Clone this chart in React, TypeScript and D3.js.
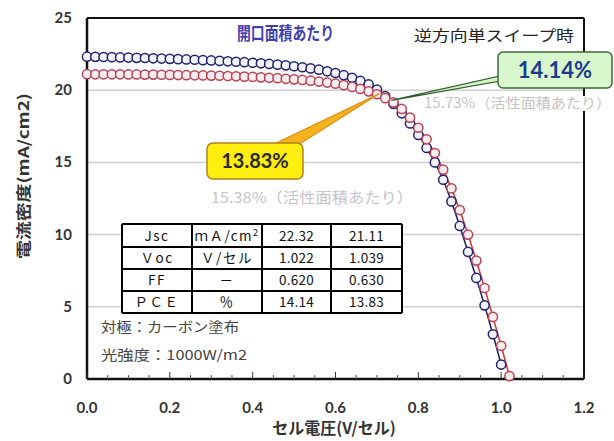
import React from "react";
import * as d3 from "d3";

const VOLTAGES = [0,0.02,0.04,0.06,0.08,0.1,0.12,0.14,0.16,0.18,0.2,0.22,0.24,0.26,0.28,0.3,0.32,0.34,0.36,0.38,0.4,0.42,0.44,0.46,0.48,0.5,0.52,0.54,0.56,0.58,0.6,0.62,0.64,0.66,0.68,0.7,0.72,0.74,0.76,0.78,0.8,0.82,0.84,0.86,0.88,0.9,0.92,0.94,0.96,0.98,1.0,1.02];

const BLUE_J = [22.32,22.31,22.3,22.29,22.27,22.26,22.24,22.23,22.21,22.19,22.17,22.15,22.13,22.11,22.08,22.06,22.03,22.0,21.97,21.94,21.9,21.86,21.82,21.77,21.72,21.66,21.59,21.51,21.42,21.31,21.19,21.04,20.86,20.64,20.4,20.05,19.6,19.05,18.4,17.7,16.9,16.0,15.0,13.8,12.3,10.6,8.8,7.0,5.1,3.1,1.0];

const RED_J = [21.11,21.1,21.1,21.1,21.1,21.09,21.09,21.08,21.08,21.07,21.06,21.05,21.04,21.03,21.02,21.01,21.0,20.98,20.96,20.94,20.92,20.89,20.86,20.83,20.79,20.75,20.71,20.66,20.6,20.53,20.45,20.35,20.23,20.09,19.92,19.72,19.45,19.15,18.7,18.1,17.4,16.6,15.65,14.5,13.2,11.7,10.0,8.2,6.3,4.3,2.3,0.2];

const X_TICKS = [0, 0.2, 0.4, 0.6, 0.8, 1.0, 1.2];
const X_MINOR = [0.05,0.1,0.15,0.25,0.3,0.35,0.45,0.5,0.55,0.65,0.7,0.75,0.85,0.9,0.95,1.05,1.1,1.15];
const Y_TICKS = [0, 5, 10, 15, 20, 25];

const TABLE_ROWS = [
  ["Jsc", "ｍＡ/cm", "22.32", "21.11"],
  ["Ｖoc", "Ｖ/セル", "1.022", "1.039"],
  ["FF", "－", "0.620", "0.630"],
  ["ＰＣＥ", "％", "14.14", "13.83"],
];

const TITLE = "開口面積あたり";
const SWEEP = "逆方向単スイープ時";
const PCE_BLUE = "14.14%";
const PCE_RED = "13.83%";
const ACTIVE_BLUE = "15.73%（活性面積あたり）";
const ACTIVE_RED = "15.38%（活性面積あたり）";
const NOTE1 = "対極：カーボン塗布";
const NOTE2 = "光強度：1000W/m2";
const X_LABEL = "セル電圧(V/セル)";
const Y_LABEL = "電流密度(mA/cm2)";

const W = 614, H = 441;
const PL = 87, PR = 584, PT = 18, PB = 379;

const JP = "'Noto Sans CJK JP', 'Noto Sans', sans-serif";
const NUM = "Lato, 'Open Sans', sans-serif";

export default function App() {
  const x = d3.scaleLinear().domain([0, 1.2]).range([PL, PR]);
  const y = d3.scaleLinear().domain([0, 25]).range([PB, PT]);

  const blue = BLUE_J.map((j, i) => [VOLTAGES[i], j] as [number, number]);
  const red = RED_J.map((j, i) => [VOLTAGES[i], j] as [number, number]);
  const line = d3.line<[number, number]>().x(d => x(d[0])).y(d => y(d[1]));

  const colX = [122, 192, 262, 331, 402];
  const rowY = [224, 247, 269, 291, 313];

  return (
    <svg width={W} height={H} style={{ position: "absolute", left: 0, top: 0, background: "#fff" }}>
      <rect x={0} y={0} width={W} height={H} fill="#fff" />
      {Y_TICKS.filter(t => t > 0 && t < 25).map(t => (
        <line key={"g" + t} x1={PL} x2={PR} y1={y(t)} y2={y(t)} stroke="#cfcfcf" strokeWidth={1.5} />
      ))}
      <line x1={PL} x2={PR} y1={PT} y2={PT} stroke="#111" strokeWidth={2} />
      <line x1={PR} x2={PR} y1={PT} y2={PB} stroke="#111" strokeWidth={2} />
      <line x1={PL} x2={PL} y1={PT} y2={PB} stroke="#111" strokeWidth={2.5} />
      <line x1={PL} x2={PR} y1={PB} y2={PB} stroke="#111" strokeWidth={2.5} />
      {X_TICKS.map(t => (
        <line key={"xt" + t} x1={x(t)} x2={x(t)} y1={PB} y2={PB - 7} stroke="#333" strokeWidth={1} />
      ))}
      {X_MINOR.map(t => (
        <line key={"xm" + t} x1={x(t)} x2={x(t)} y1={PB} y2={PB - 4} stroke="#555" strokeWidth={1} />
      ))}
      {X_TICKS.map(t => (
        <text key={"xl" + t} x={x(t)} y={413} textAnchor="middle" fontFamily={NUM} fontWeight="bold" fontSize={15} fill="#333">
          {t.toFixed(1)}
        </text>
      ))}
      {Y_TICKS.map(t => (
        <text key={"yl" + t} x={72} y={y(t) + 5} textAnchor="end" fontFamily={NUM} fontWeight="bold" fontSize={15} fill="#333">
          {t}
        </text>
      ))}
      <text x={334} y={434} textAnchor="middle" fontFamily={JP} fontWeight="bold" fontSize={16} fill="#333">{X_LABEL}</text>
      <text transform={`translate(29,176) rotate(-90)`} textAnchor="middle" fontFamily={JP} fontWeight="bold" fontSize={15}
        fill="#333" textLength={166} lengthAdjust="spacingAndGlyphs">{Y_LABEL}</text>

      <path d={line(blue) || ""} fill="none" stroke="#1c1c66" strokeWidth={1.5} />
      <path d={line(red) || ""} fill="none" stroke="#d03535" strokeWidth={1.5} />
      {blue.map((d, i) => (
        <circle key={"b" + i} cx={x(d[0])} cy={y(d[1])} r={4.6} fill="#f4f4ff" stroke="#22226e" strokeWidth={1.5} />
      ))}
      {red.map((d, i) => (
        <circle key={"r" + i} cx={x(d[0])} cy={y(d[1])} r={4.6} fill="#ffeef0" stroke="#b84356" strokeWidth={1.5} />
      ))}

      <text x={237} y={40} fontFamily={JP} fontWeight="bold" fontSize={18} fill="#4040b0" textLength={97} lengthAdjust="spacingAndGlyphs">{TITLE}</text>
      <text x={414} y={41} fontFamily={JP} fontSize={15} fill="#222" textLength={160} lengthAdjust="spacingAndGlyphs">{SWEEP}</text>

      <rect x={423} y={96} width={191} height={15} fill="#fff" />
      <text x={424} y={108} fontFamily={JP} fontSize={14} fill="#c4c4c4" textLength={187} lengthAdjust="spacingAndGlyphs">{ACTIVE_BLUE}</text>
      <text x={211} y={203} fontFamily={JP} fontSize={15} fill="#c4c4cc" textLength={202} lengthAdjust="spacingAndGlyphs">{ACTIVE_RED}</text>

      <polygon points={`${x(0.735)},${y(19.3)} 500,76 500,81`} fill="#d6f5c6" stroke="#2e5a2e" strokeWidth={1.2} />
      <rect x={498} y={52} width={114} height={36} rx={5} fill="#d9f7cc" stroke="#3a6a3a" strokeWidth={1.5} />
      <text x={555} y={78} textAnchor="middle" fontFamily={NUM} fontWeight="bold" fontSize={22} fill="#1b3a8c">{PCE_BLUE}</text>

      <polygon points={`${x(0.705)},${y(19.75)} 272,145 298,145`} fill="#f5b21f" stroke="#e08a10" strokeWidth={1.2} />
      <rect x={207} y={143} width={96} height={36} rx={6} fill="#ffee10" stroke="#b08020" strokeWidth={1.5} />
      <text x={255} y={168} textAnchor="middle" fontFamily={NUM} fontWeight="bold" fontSize={20} fill="#2a2a2a">{PCE_RED}</text>

      <rect x={colX[0]} y={rowY[0]} width={colX[4] - colX[0]} height={rowY[4] - rowY[0]} fill="#fff" />
      {rowY.map((ry, i) => (
        <line key={"tr" + i} x1={colX[0]} x2={colX[4]} y1={ry} y2={ry} stroke="#000" strokeWidth={2} />
      ))}
      {colX.map((cx, i) => (
        <line key={"tc" + i} x1={cx} x2={cx} y1={rowY[0]} y2={rowY[4]} stroke="#000" strokeWidth={2} />
      ))}
      {TABLE_ROWS.map((row, ri) =>
        row.map((cell, ci) => (
          <text key={`c${ri}-${ci}`} x={(colX[ci] + colX[ci + 1]) / 2} y={(rowY[ri] + rowY[ri + 1]) / 2 + 5}
            textAnchor="middle" fontFamily={JP} fontSize={13.5} fill="#111" letterSpacing={ci < 2 ? 1.5 : 0.3}>
            {cell}
            {ri === 0 && ci === 1 ? <tspan dy={-5} fontSize={9}>2</tspan> : null}
          </text>
        ))
      )}

      <text x={101} y={332} fontFamily={JP} fontSize={13.5} fill="#444" textLength={138} lengthAdjust="spacingAndGlyphs">{NOTE1}</text>
      <text x={101} y={360} fontFamily={JP} fontSize={13.5} fill="#444" textLength={146} lengthAdjust="spacingAndGlyphs">{NOTE2}</text>
    </svg>
  );
}
